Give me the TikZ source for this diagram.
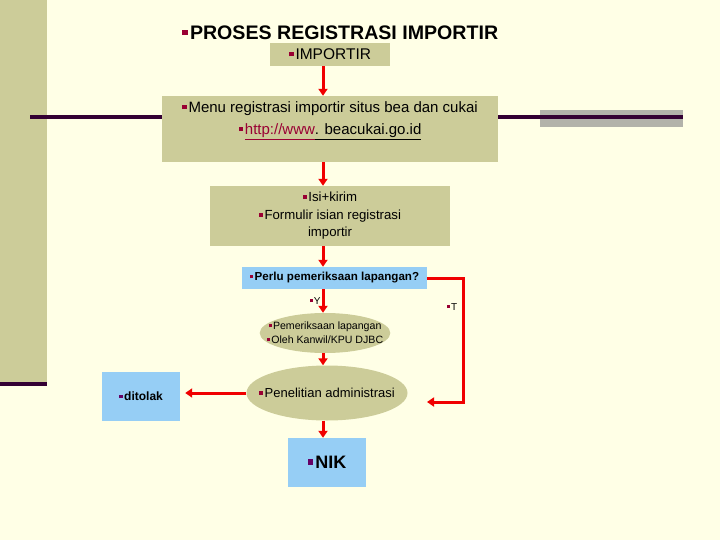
\documentclass[tikz,border=0pt]{standalone}
\usepackage{fontspec}
\setmainfont{Liberation Sans}
\usetikzlibrary{arrows.meta,shapes.geometric}
\definecolor{pagebg}{RGB}{255,255,230}
\definecolor{khaki}{RGB}{204,204,153}
\definecolor{skyblue}{RGB}{150,206,245}
\definecolor{flowred}{RGB}{240,0,0}
\definecolor{darkplum}{RGB}{51,0,51}
\definecolor{bargray}{RGB}{178,178,170}
\definecolor{bulred}{RGB}{153,0,51}
\definecolor{bulplum}{RGB}{102,0,102}
\newcommand{\bul}[1][bulred]{{\color{#1}\rule[0.22em]{0.3em}{0.3em}}\hspace{0.12em}}

\begin{document}
\begin{tikzpicture}[x=1pt,y=-1pt,line join=miter,
  box/.style={fill=khaki,inner sep=0pt,align=center},
  bluebox/.style={fill=skyblue,inner sep=0pt,align=center},
  oval/.style={ellipse,fill=khaki,inner xsep=-12pt,inner ysep=0pt,align=center},
  flow/.style={-{Triangle[length=7pt,width=9pt]},draw=flowred,line width=3pt},
  barline/.style={draw=darkplum,line width=3.5pt}]
\useasboundingbox[fill=pagebg] (0,0) rectangle (720,540);
% frame
\fill[khaki] (0,0) rectangle (47,382);
\draw[barline] (0,384) -- (47,384);
\fill[bargray] (540,110) rectangle (683,127);
\draw[barline] (30,117) -- (683,117);
% boxes
\node[font=\bfseries\fontsize{19.6}{22}\selectfont] (title) at (340,33) {\bul PROSES REGISTRASI IMPORTIR};
\node[box,minimum width=120,minimum height=23,font=\fontsize{15.5}{17}\selectfont] (imp) at (330,54.5) {\bul IMPORTIR};
\node[box,minimum width=336,minimum height=66,font=\fontsize{15}{22}\selectfont] (menu) at (330,129)
  {\bul Menu registrasi importir situs bea dan cukai\\
   \bul{\color{bulred}\underline{http://www}}\underline{. beacukai.go.id}\\ \mbox{}};
\node[box,minimum width=240,minimum height=60,font=\fontsize{13.2}{17.5}\selectfont] (isi) at (330,216)
  {\bul Isi+kirim\\ \bul Formulir isian registrasi\\ importir};
\node[bluebox,minimum width=185,minimum height=22,font=\bfseries\fontsize{11.6}{13}\selectfont] (perlu) at (334.5,278)
  {\bul Perlu pemeriksaan lapangan?};
\node[oval,minimum width=130,minimum height=40,font=\fontsize{10.6}{14}\selectfont] (periksa) at (325,333)
  {\bul Pemeriksaan lapangan\\ \bul Oleh Kanwil/KPU DJBC};
\node[oval,minimum width=161,minimum height=55,font=\fontsize{13}{15}\selectfont] (teliti) at (327,393)
  {\bul Penelitian administrasi};
\node[bluebox,minimum width=78,minimum height=49,font=\bfseries\fontsize{12}{14}\selectfont] (tolak) at (141,396.5)
  {\bul[bulplum]ditolak};
\node[bluebox,minimum width=78,minimum height=49,font=\bfseries\fontsize{18}{20}\selectfont] (nik) at (327,462.5)
  {\bul[bulplum]NIK};
\node[font=\fontsize{10}{12}\selectfont] (ylab) at (315,301) {\bul Y};
\node[font=\fontsize{10}{12}\selectfont] (tlab) at (452,307) {\bul T};
% arrows
\draw[flow] ([xshift=-7]imp.south) -- ([xshift=-7]menu.north);
\draw[flow] ([xshift=-7]menu.south) -- ([xshift=-7]isi.north);
\draw[flow] ([xshift=-7]isi.south) -- ([xshift=-11.5]perlu.north);
\draw[flow] ([xshift=-11.5]perlu.south) -- ([xshift=-2]periksa.north);
\draw[flow] ([xshift=-2]periksa.south) -- ([xshift=-4]teliti.north);
\draw[flow] ([xshift=-4]teliti.south) -- ([xshift=-4]nik.north);
\draw[flow,shorten >=5pt] (teliti.west) -- (teliti.west -| tolak.east);
\coordinate (tcorner) at (463,278);
\coordinate (tend) at (427,402);
\draw[flow] (perlu.east) -- (tcorner) |- (tend);
\end{tikzpicture}
\end{document}
